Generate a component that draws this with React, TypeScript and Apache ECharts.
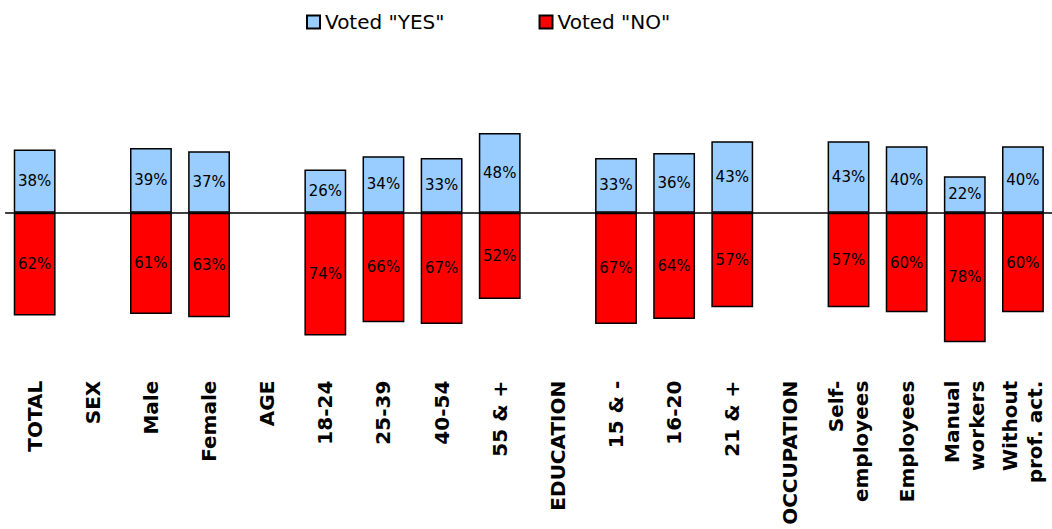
import React, { useEffect, useRef } from "react";
import * as echarts from "echarts";

const categories = [
  "TOTAL", "SEX", "Male", "Female", "AGE", "18-24", "25-39", "40-54", "55 & +",
  "EDUCATION", "15 & -", "16-20", "21 & +", "OCCUPATION", "Self-\nemployees",
  "Employees", "Manual\nworkers", "Without\nprof. act.",
];
const yesValues: (number | null)[] = [38, null, 39, 37, null, 26, 34, 33, 48, null, 33, 36, 43, null, 43, 40, 22, 40];
const noValues: (number | null)[] = [62, null, 61, 63, null, 74, 66, 67, 52, null, 67, 64, 57, null, 57, 60, 78, 60];
const yesName = 'Voted "YES"';
const noName = 'Voted "NO"';

const FONT = "'DejaVu Sans', Verdana, sans-serif";

export default function App() {
  const ref = useRef<HTMLDivElement>(null);
  useEffect(() => {
    if (!ref.current) return;
    const chart = echarts.init(ref.current, undefined, { renderer: "svg" });
    const labelCfg = {
      show: true,
      position: "inside",
      color: "#000",
      fontSize: 15,
      fontFamily: FONT,
      formatter: (p: any) => `${Math.abs(p.value)}%`,
    };
    chart.setOption({
      animation: false,
      backgroundColor: "#fff",
      legend: {
        left: 306,
        top: 12,
        padding: 0,
        itemWidth: 13,
        itemHeight: 13,
        itemGap: 94,
        icon: "rect",
        textStyle: { fontSize: 20, fontFamily: FONT, color: "#000" },
        data: [yesName, noName],
      },
      grid: { left: 5.6, width: 1049.6, top: 46.7, height: 332, containLabel: false },
      xAxis: [
        {
          type: "category",
          data: categories,
          position: "top",
          axisLine: { show: true, onZero: true, lineStyle: { color: "#000", width: 1.5 } },
          axisTick: { show: false },
          axisLabel: { show: false },
          splitLine: { show: false },
        },
        {
          type: "category",
          data: categories,
          position: "bottom",
          axisLine: { show: false, onZero: false },
          axisTick: { show: false },
          splitLine: { show: false },
          axisLabel: {
            interval: 0,
            rotate: 90,
            margin: 2,
            fontSize: 20,
            fontWeight: "bold",
            fontFamily: FONT,
            color: "#000",
            lineHeight: 25,
          },
        },
      ],
      yAxis: { type: "value", min: -100, max: 100, show: false },
      series: [
        {
          name: yesName,
          type: "bar",
          stack: "vote",
          barCategoryGap: "28%",
          data: yesValues,
          itemStyle: { color: "#99CCFF", borderColor: "#000", borderWidth: 1.5 },
          label: labelCfg,
        },
        {
          name: noName,
          type: "bar",
          stack: "vote",
          barCategoryGap: "28%",
          data: noValues.map((v) => (v == null ? null : -v)),
          itemStyle: { color: "#FF0000", borderColor: "#000", borderWidth: 1.5 },
          label: labelCfg,
        },
      ],
    });
    return () => chart.dispose();
  }, []);
  return (
    <div
      ref={ref}
      style={{ position: "absolute", left: 0, top: 0, width: 1052, height: 529 }}
    />
  );
}
